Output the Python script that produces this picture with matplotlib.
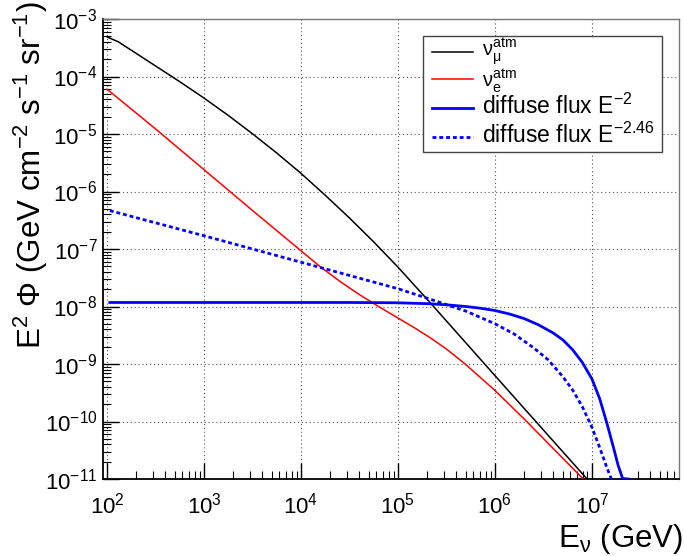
import numpy as np
import matplotlib
matplotlib.use("Agg")
import matplotlib.pyplot as plt
from matplotlib.ticker import LogLocator, LogFormatterSciNotation, NullFormatter
from matplotlib.lines import Line2D
from matplotlib.patches import Rectangle

plt.rcParams['font.family'] = ['Liberation Sans', 'DejaVu Sans']
plt.rcParams['mathtext.fontset'] = 'custom'
plt.rcParams['mathtext.rm'] = 'Liberation Sans'
plt.rcParams['mathtext.it'] = 'Liberation Sans'
plt.rcParams['mathtext.bf'] = 'Liberation Sans:bold'
plt.rcParams['mathtext.default'] = 'regular'

# ---- data ----
numu_E = [1.0e2, 1.318e2, 3.16e2, 5.62e2, 1.0e3, 1.778e3, 3.16e3, 5.62e3, 1.0e4, 1.778e4, 3.16e4,
          5.62e4, 1.0e5, 2.14e5, 8.32e5, 2.51e6, 8.91e6]
numu_F = [4.90e-4, 3.98e-4, 1.53e-4, 8.13e-5, 4.22e-5, 2.11e-5, 1.01e-5, 4.68e-6, 2.07e-6, 8.61e-7, 3.47e-7,
          1.33e-7, 4.84e-8, 1.175e-8, 8.91e-10, 1.10e-10, 1.0e-11]

nue_E = [1.0e2, 3.16e2, 1.0e3, 3.16e3, 1.0e4, 1.585e4, 2.51e4, 3.98e4, 6.31e4, 1.0e5, 1.445e5, 2.14e5,
         3.16e5, 5.01e5, 1.0e6, 2.04e6, 8.13e6]
nue_F = [6.03e-5, 1.23e-5, 2.40e-6, 4.68e-7, 9.33e-8, 4.90e-8, 2.75e-8, 1.62e-8, 1.0e-8, 6.31e-9, 4.37e-9, 2.88e-9,
         1.82e-9, 9.77e-10, 3.47e-10, 1.07e-10, 1.0e-11]

diff2_E = [1.07e2, 3.16e4, 1.0e5, 2.0e5, 3.16e5, 5.01e5, 7.08e5, 1.0e6, 1.41e6, 2.0e6, 2.82e6, 3.98e6,
           5.01e6, 6.31e6, 7.94e6, 1.0e7, 1.20e7, 1.41e7, 1.66e7, 1.86e7, 2.07e7, 2.37e7]
diff2_F = [1.175e-8, 1.175e-8, 1.16e-8, 1.12e-8, 1.07e-8, 1.0e-8, 9.33e-9, 8.51e-9, 7.41e-9, 6.17e-9, 4.79e-9, 3.47e-9,
           2.63e-9, 1.78e-9, 1.07e-9, 5.5e-10, 2.51e-10, 1.0e-10, 3.63e-11, 1.74e-11, 1.02e-11, 1.0e-11]

diff246_E = [1.07e2, 1.0e3, 1.0e4, 1.0e5, 2.51e5, 5.01e5, 1.0e6, 1.585e6, 2.51e6, 3.55e6, 5.01e6, 6.31e6,
             7.94e6, 1.0e7, 1.20e7, 1.41e7, 1.585e7]
diff246_F = [4.65e-7, 1.70e-7, 5.89e-8, 2.04e-8, 1.23e-8, 8.32e-9, 5.01e-9, 3.31e-9, 1.905e-9, 1.175e-9, 6.03e-10, 3.55e-10,
             1.82e-10, 7.94e-11, 3.55e-11, 1.66e-11, 1.0e-11]

x_range = [9.1e1, 7.9e7]
y_range = [1e-11, 1e-3]
legend_labels = [r'$\nu_{\mu}^{atm}$', r'$\nu_{e}^{atm}$',
                 r'diffuse flux E$^{-2}$', r'diffuse flux E$^{-2.46}$']
x_title = r'E$_{\nu}$ (GeV)'
y_title = r'E$^{2}$ $\Phi$ (GeV cm$^{-2}$ s$^{-1}$ sr$^{-1}$)'

W, H = 684, 556
fig = plt.figure(figsize=(W / 100, H / 100), dpi=100)
L, R, T, B = 103, 679, 19, 479
ax = fig.add_axes([L / W, 1 - B / H, (R - L) / W, (B - T) / H])

ax.set_xscale('log')
ax.set_yscale('log')
ax.set_xlim(*x_range)
ax.set_ylim(*y_range)

styles = [dict(color='black', lw=1.1, ls='-'),
          dict(color='red', lw=1.1, ls='-'),
          dict(color='blue', lw=2.0, ls='-'),
          dict(color='blue', lw=2.0, ls=(0, (1.4, 1.05)))]

ax.plot(numu_E, numu_F, zorder=3, **styles[0])
ax.plot(nue_E, nue_F, zorder=3, **styles[1])
ax.plot(diff2_E, diff2_F, zorder=3, **styles[2])
ax.plot(diff246_E, diff246_F, zorder=3, **styles[3])

ax.xaxis.set_major_locator(LogLocator(base=10, numticks=20))
ax.yaxis.set_major_locator(LogLocator(base=10, numticks=20))
ax.xaxis.set_minor_locator(LogLocator(base=10, subs=np.arange(2, 10), numticks=20))
ax.yaxis.set_minor_locator(LogLocator(base=10, subs=np.arange(2, 10), numticks=20))
ax.xaxis.set_major_formatter(LogFormatterSciNotation())
ax.yaxis.set_major_formatter(LogFormatterSciNotation())
ax.xaxis.set_minor_formatter(NullFormatter())
ax.yaxis.set_minor_formatter(NullFormatter())

ax.tick_params(which='major', direction='in', length=11.5, width=1.0, labelsize=16,
               top=False, right=False, color='black')
ax.tick_params(which='minor', direction='in', length=5.8, width=0.8, top=False, right=False)
ax.tick_params(axis='x', which='major', pad=10)
ax.tick_params(axis='y', which='major', pad=4)

ax.grid(True, which='major', color='#555555', ls=(0, (1, 2.5)), lw=0.8)
for s in ax.spines.values():
    s.set_linewidth(1.0)
ax.spines['top'].set_color('#777777')
ax.spines['right'].set_color('#777777')
ax.spines['left'].set_linewidth(1.3)
ax.spines['bottom'].set_linewidth(1.3)

# ---- legend (drawn in figure pixel coordinates) ----
def fx(px):
    return px / W

def fy(py):
    return 1 - py / H

box = Rectangle((fx(423), fy(152)), fx(662) - fx(423), fy(36) - fy(152),
                transform=fig.transFigure, facecolor='white', edgecolor='#444444',
                lw=1.0, zorder=10)
fig.add_artist(box)
line_y = [51.7, 79.3, 108.3, 136.7]
text_y = [56.5, 87.0, 114.3, 142.7]
text_size = [14.5, 14.5, 16.5, 16.5]
for st, lab, ly, ty, fs in zip(styles, legend_labels, line_y, text_y, text_size):
    ln = Line2D([fx(432), fx(473)], [fy(ly), fy(ly)], transform=fig.transFigure,
                zorder=11, **st)
    fig.add_artist(ln)
    fig.text(fx(482), fy(ty), lab, ha='left', va='baseline', fontsize=fs, zorder=12)

fig.text(683 / W, 1 - 547 / H, x_title, ha='right', va='baseline', fontsize=22.5)
fig.text(31 / W, 1 - 1 / H, y_title, ha='center', va='top', rotation=90, fontsize=22.5)

fig.savefig('out.png', dpi=100)
